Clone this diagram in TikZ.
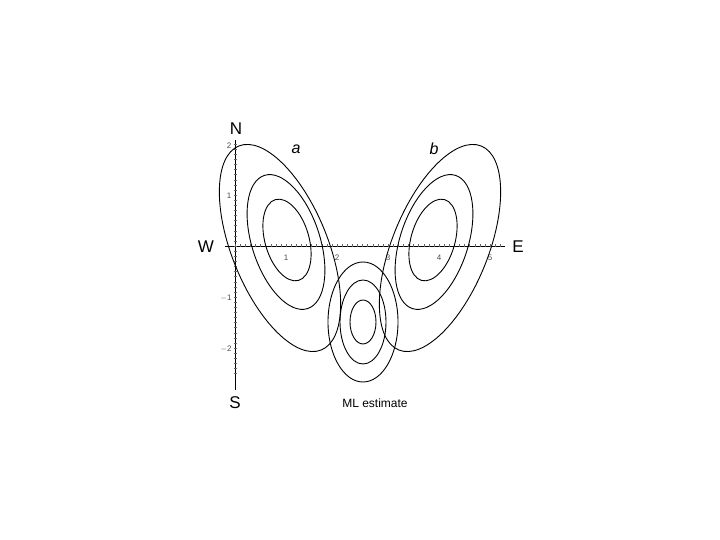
\documentclass[tikz,border=0pt]{standalone}
\usepackage{fontspec}
\setmainfont{Liberation Sans}
\usetikzlibrary{positioning}

\begin{document}
\begin{tikzpicture}[x=1pt,y=1pt,semithick,
                    lev/.style={draw=black,line width=0.9pt},
                    dir/.style={font=\fontsize{17}{19}\selectfont},
                    tick/.style={font=\fontsize{8}{9}\selectfont,text=black!70}]

  \useasboundingbox (0,0) rectangle (720,540);

  % axes (origin at 235,294 ; one unit = 51pt)
  \coordinate (Ntop) at (235,400);
  \coordinate (Sbot) at (235,150);
  \coordinate (Wend) at (225,294);
  \coordinate (Eend) at (505,294);
  \draw (Ntop) -- (Sbot);
  \draw (Wend) -- (Eend);
  \foreach \t in {-2.5,-2.4,...,2.1}
    \draw[line width=0.3pt,black!60] (233.5,294+51*\t) -- (236.5,294+51*\t);
  \foreach \t in {0,0.1,...,5.3}
    \draw[line width=0.3pt,black!60] (235+51*\t,292.5) -- (235+51*\t,295.5);

  \node[dir] (N) at (236,411) {N};
  \node[dir] (S) at (235,137) {S};
  \node[dir] (W) at (206,293) {W};
  \node[dir] (E) at (518,293) {E};
  \foreach \v in {1,...,5}
    \node[tick] (x\v) at (235+51*\v,282) {\v};
  \node[tick] (y2) at (229,394) {2};
  \node[tick] (y1) at (229,344) {1};
  \node[tick] (ym1) at (226,242) {$-$1};
  \node[tick] (ym2) at (226,191) {$-$2};

  % contours
  \foreach \r/\s/\cx/\cy/\a in {110/48/280/292/-68, 70/34/286/298/-72, 42/22/287/300/-74}
    \draw[lev,rotate around={\a:(\cx,\cy)}] (\cx,\cy) ellipse ({\r} and {\s});
  \foreach \r/\s/\cx/\cy/\a in {110/48/440/292/68, 70/34/434/298/72, 42/22/433/300/74}
    \draw[lev,rotate around={\a:(\cx,\cy)}] (\cx,\cy) ellipse ({\r} and {\s});
  \foreach \r/\s in {35/60, 23/42, 13/22}
    \draw[lev] (363,218) ellipse ({\r} and {\s});

  \node[font=\itshape\fontsize{16}{18}\selectfont] (a) at (296,391) {a};
  \node[font=\itshape\fontsize{16}{18}\selectfont] (b) at (434,391) {b};
  \node[font=\fontsize{12}{14}\selectfont] (ml) at (375,137) {ML estimate};
\end{tikzpicture}
\end{document}
